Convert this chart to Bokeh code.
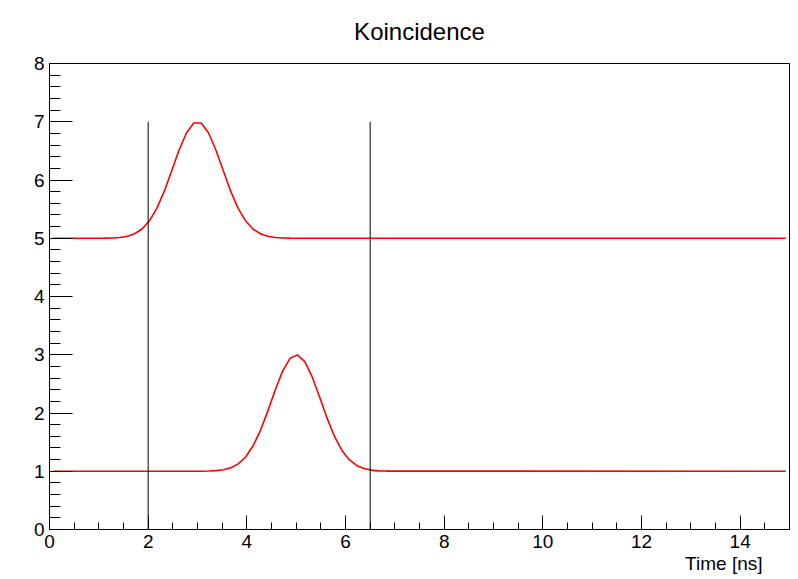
from bokeh.plotting import figure
from bokeh.models import Range1d, SingleIntervalTicker, ColumnDataSource, Title
from bokeh.embed import file_html
from bokeh.resources import INLINE

# Signal A (baseline 5, peak near t = 3 ns)
time_a = [0.075, 1.125, 1.275, 1.425, 1.575, 1.725, 1.875, 2.025, 2.175, 2.325,
          2.475, 2.625, 2.775, 2.925, 3.075, 3.225, 3.375, 3.525, 3.675, 3.825,
          3.975, 4.125, 4.275, 4.425, 4.575, 4.725, 4.875, 14.925]
signal_a = [5.000, 5.002, 5.005, 5.014, 5.034, 5.078, 5.159, 5.299, 5.513, 5.804,
            6.153, 6.510, 6.807, 6.978, 6.978, 6.807, 6.510, 6.153, 5.804, 5.513,
            5.299, 5.159, 5.078, 5.034, 5.014, 5.005, 5.002, 5.000]

# Signal B (baseline 1, peak near t = 5 ns)
time_b = [0.075, 3.075, 3.225, 3.375, 3.525, 3.675, 3.825, 3.975, 4.125, 4.275,
          4.425, 4.575, 4.725, 4.875, 5.025, 5.175, 5.325, 5.475, 5.625, 5.775,
          5.925, 6.075, 6.225, 6.375, 6.525, 6.675, 6.825, 14.925]
signal_b = [1.000, 1.001, 1.004, 1.010, 1.026, 1.060, 1.126, 1.245, 1.433, 1.699,
            2.032, 2.394, 2.719, 2.939, 2.998, 2.881, 2.619, 2.274, 1.916, 1.602,
            1.361, 1.198, 1.100, 1.046, 1.019, 1.007, 1.003, 1.000]

# Coincidence window markers
window_times = [2.0, 6.5]
window_bottom = [0.0, 0.0]
window_top = [7.0, 7.0]

title_text = "Koincidence"
x_title = "Time [ns]"

FONT = "Liberation Sans"

p = figure(width=798, height=579, output_backend="svg", toolbar_location=None,
           x_range=Range1d(0, 15), y_range=Range1d(0, 8),
           min_border_left=49, min_border_right=9, min_border_top=63,
           min_border_bottom=50, title=title_text)
p.background_fill_color = "white"
p.border_fill_color = "white"
p.outline_line_color = "black"
p.outline_line_width = 1
p.xgrid.visible = False
p.ygrid.visible = False

p.title.align = "center"
p.title.vertical_align = "top"
p.title.text_font = FONT
p.title.text_font_size = "24px"
p.title.text_font_style = "normal"
p.title.text_color = "black"
p.title.standoff = 33

p.xaxis.ticker = SingleIntervalTicker(interval=2, num_minor_ticks=4)
p.yaxis.ticker = SingleIntervalTicker(interval=1, num_minor_ticks=5)
for ax in (p.xaxis[0], p.yaxis[0]):
    ax.axis_line_color = "black"
    ax.major_tick_line_color = "black"
    ax.minor_tick_line_color = "black"
    ax.major_tick_out = 0
    ax.minor_tick_out = 0
    ax.major_label_text_font = FONT
    ax.major_label_text_font_size = "19px"
    ax.major_label_text_color = "black"
    ax.major_label_standoff = 5
p.xaxis.major_tick_in = 14
p.xaxis.minor_tick_in = 7
p.yaxis.major_tick_in = 23
p.yaxis.minor_tick_in = 11

p.add_layout(Title(text=x_title, align="right", offset=27, standoff=0,
                   text_font=FONT, text_font_size="19px",
                   text_font_style="normal", text_color="black"), "below")

p.line(time_a, signal_a, line_color="#ff0000", line_width=1.6)
p.line(time_b, signal_b, line_color="#ff0000", line_width=1.6)

src = ColumnDataSource(dict(x=window_times, y0=window_bottom, y1=window_top))
p.segment(x0="x", y0="y0", x1="x", y1="y1", source=src,
          line_color="black", line_width=1)

open("out.html", "w").write(file_html(p, INLINE))
